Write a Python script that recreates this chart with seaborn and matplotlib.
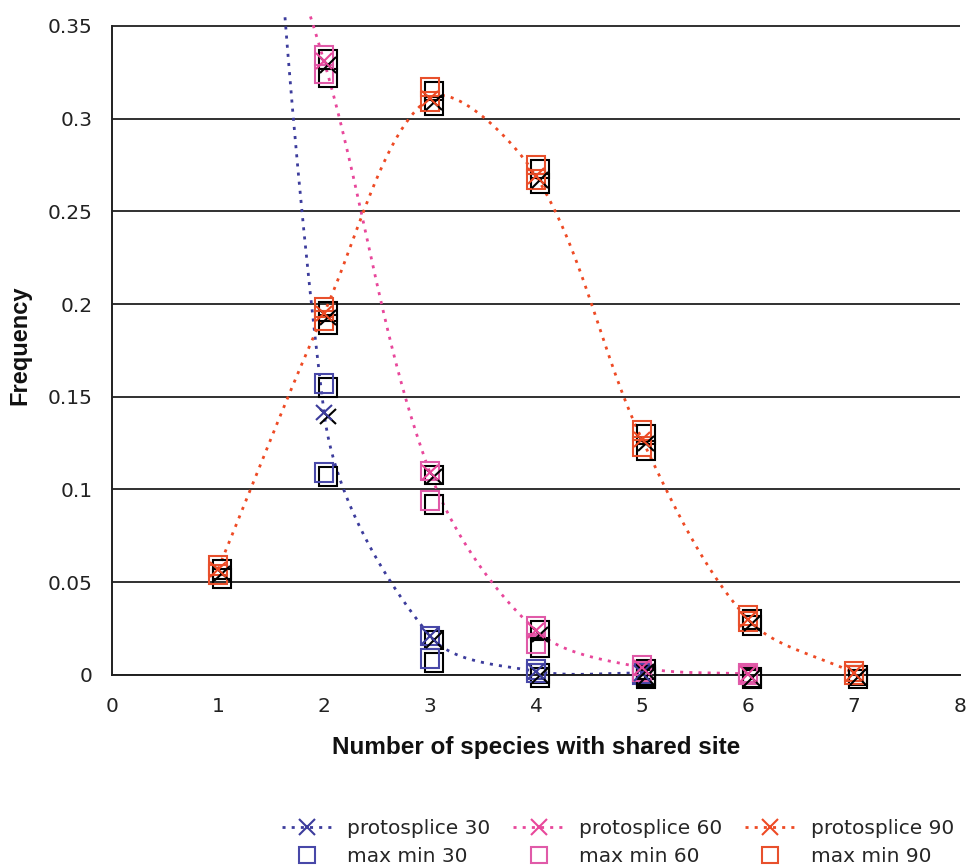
import matplotlib
matplotlib.use("Agg")
import matplotlib.pyplot as plt
import matplotlib.patheffects as pe
from matplotlib.lines import Line2D
import numpy as np
import seaborn as sns

# species count per site
x_vals = [1, 2, 3, 4, 5, 6, 7]

# protosplice curves (first value lies above the visible range)
proto30 = [0.95, 0.1415, 0.021, 0.002, 0.001]
proto60 = [0.50, 0.331, 0.109, 0.024, 0.004, 0.0005]
proto90 = [0.057, 0.195, 0.311, 0.269, 0.127, 0.030, 0.001]

# max min markers: two values (max, min) per x
mm30_x = [2, 2, 3, 3, 4, 4, 5, 5]
mm30_y = [0.157, 0.109, 0.021, 0.009, 0.003, 0.001, 0.001, 0.0]
mm60_x = [2, 2, 3, 3, 4, 4, 5, 5, 6, 6]
mm60_y = [0.334, 0.324, 0.110, 0.094, 0.026, 0.017, 0.005, 0.002, 0.001, 0.0]
mm90_x = [1, 1, 2, 2, 3, 3, 4, 4, 5, 5, 6, 6, 7, 7]
mm90_y = [0.059, 0.054, 0.198, 0.191, 0.317, 0.309, 0.275, 0.267,
          0.132, 0.123, 0.032, 0.029, 0.002, 0.0]

line_colors = {"30": "#3c3c9c", "60": "#e8479b", "90": "#ee4a24"}
square_colors = {"30": "#4848a8", "60": "#e05aa8", "90": "#e8502c"}


def smooth(xs, ys, sx=106.0, sy=1866.0, steps=50):
    # Excel-like smoothed line: bezier segments, tangents weighted by
    # chord length measured in screen units
    p = np.column_stack([np.asarray(xs, float) * sx, np.asarray(ys, float) * sy])
    n = len(p)
    out = []
    t = np.linspace(0, 1, steps)[:, None]
    for i in range(n - 1):
        p0 = p[i - 1] if i > 0 else p[i]
        p1, p2 = p[i], p[i + 1]
        p3 = p[i + 2] if i + 2 < n else p[i + 1]
        d01 = np.linalg.norm(p1 - p0)
        d12 = np.linalg.norm(p2 - p1)
        d23 = np.linalg.norm(p3 - p2)
        c1 = p1 + (p2 - p0) * d12 / (3 * (d01 + d12))
        c2 = p2 - (p3 - p1) * d12 / (3 * (d12 + d23))
        seg = ((1 - t) ** 3 * p1 + 3 * (1 - t) ** 2 * t * c1
               + 3 * (1 - t) * t ** 2 * c2 + t ** 3 * p2)
        out.append(seg)
    out = np.vstack(out)
    return out[:, 0] / sx, out[:, 1] / sy


sns.set_theme(style="white")
plt.rcParams["font.family"] = ["DejaVu Sans"]

fig = plt.figure(figsize=(9.69, 8.68), dpi=100)
ax = fig.add_axes([0.1156, 0.2224, 0.8751, 0.7596])

dots = (0, (1.1, 2.2))
shadow = [pe.SimpleLineShadow(offset=(2.9, -2.9), shadow_color="black", alpha=1, rho=0),
          pe.Normal()]

for key, ys in [("30", proto30), ("60", proto60), ("90", proto90)]:
    xs = x_vals[:len(ys)]
    cx, cy = smooth(xs, ys)
    sns.lineplot(x=cx, y=cy, sort=False, estimator=None, ax=ax,
                 color=line_colors[key], lw=2.0, linestyle=dots)

for key, xs, ys in [("30", mm30_x, mm30_y), ("60", mm60_x, mm60_y), ("90", mm90_x, mm90_y)]:
    ax.plot(xs, ys, ls="", marker="s", ms=13.5, mfc="none", mec=square_colors[key],
            mew=1.5, clip_on=False, zorder=4, path_effects=shadow)

for key, ys in [("30", proto30), ("60", proto60), ("90", proto90)]:
    xs = x_vals[:len(ys)]
    ax.plot(xs, ys, ls="", marker="x", ms=11, mec=line_colors[key],
            mew=1.5, clip_on=False, zorder=5, path_effects=shadow)

ax.set_xlim(0, 8)
ax.set_ylim(0, 0.3555)
ax.set_xticks(range(0, 9))
ax.set_yticks([0, 0.05, 0.1, 0.15, 0.2, 0.25, 0.3, 0.35])
ax.set_yticklabels(["0", "0.05", "0.1", "0.15", "0.2", "0.25", "0.3", "0.35"])
ax.yaxis.grid(True, color="#303030", lw=1.4)
ax.set_axisbelow(True)
for s in ["top", "right"]:
    ax.spines[s].set_visible(False)
ax.spines["left"].set_bounds(0, 0.35)
for s in ["left", "bottom"]:
    ax.spines[s].set_color("#202020")
    ax.spines[s].set_linewidth(1.4)
ax.tick_params(axis="both", direction="out", length=6, width=1.2, color="#202020",
               labelsize=14.5, labelcolor="#222222")
ax.tick_params(axis="x", pad=10)
ax.tick_params(axis="y", pad=8)

ax.set_xlabel("Number of species with shared site", fontsize=17.5, fontweight="bold",
              family="Liberation Sans", labelpad=14, color="#111111")
ax.set_ylabel("Frequency", fontsize=17, fontweight="bold", family="Liberation Sans",
              labelpad=12, color="#111111")

handles = []
labels = []
for key in ["30", "60", "90"]:
    handles.append(Line2D([], [], color=line_colors[key], lw=2.0, linestyle=dots,
                          marker="x", ms=11, mew=1.5))
    labels.append("protosplice " + key)
    handles.append(Line2D([], [], ls="", marker="s", ms=11, mfc="none",
                          mec=square_colors[key], mew=1.5))
    labels.append("max min " + key)

fig.legend(handles, labels, ncol=3, loc="lower right", bbox_to_anchor=(0.9845, 0.002),
           frameon=False, fontsize=14.5, handlelength=2.5, handletextpad=0.75,
           columnspacing=1.15, labelspacing=0.45, borderaxespad=0.0, borderpad=0.0)

fig.savefig("out.png", dpi=100)
